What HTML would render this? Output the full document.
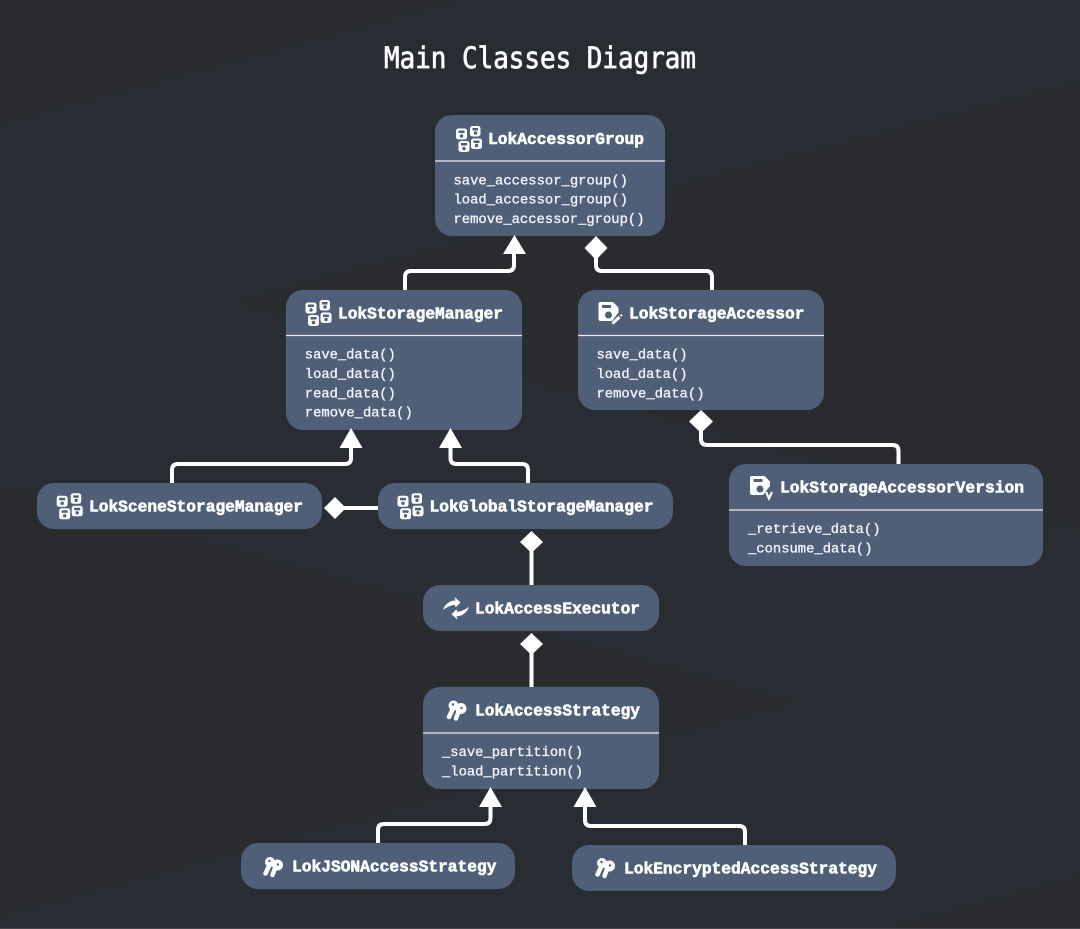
<!DOCTYPE html>
<html lang="en"><head><meta charset="utf-8"><title>Main Classes Diagram</title>
<style>
html,body{margin:0;padding:0;background:#292c33;}
svg{display:block;}
.t{font-family:"Liberation Mono",monospace;font-weight:700;font-size:16.3px;fill:#fff;stroke:#fff;stroke-width:.6px;}
.m{font-family:"Liberation Mono",monospace;font-weight:400;font-size:13.85px;fill:#f2f4f7;stroke:#f2f4f7;stroke-width:.35px;}
.n{fill:#505f78;}
.d{stroke:#e8eaee;stroke-width:1.3;}
.c{fill:none;stroke:#fff;stroke-width:4;stroke-linejoin:round;}
</style></head><body>
<svg xmlns="http://www.w3.org/2000/svg" width="1080" height="929" viewBox="0 0 1080 929">
<rect width="1080" height="929" fill="#292c33"/>
<g fill="#2a2b2e">
<polygon points="0,0 457,0 0,123"/>
<polygon points="1080,82 236,302 1080,530"/>
<polygon points="0,487 793,702 0,915"/>
<polygon points="1080,877 1080,929 887,929"/>
</g>
<rect y="928" width="1080" height="1" fill="#44464b"/>

<text x="384" y="68" font-family="'DejaVu Sans Mono',monospace" font-size="29" fill="#fff" stroke="#fff" stroke-width=".7" textLength="312" lengthAdjust="spacingAndGlyphs">Main Classes Diagram</text>

<!-- connectors -->
<path class="c" d="M405 291V277Q405 271 411 271H508Q514 271 514 265V250"/>
<path class="c" d="M596 255V265Q596 271 602 271H706Q712 271 712 277V291"/>
<path class="c" d="M701 428V439Q701 445 707 445H892.500Q898.500 445 898.500 451V465"/>
<path class="c" d="M172 484V470Q172 464 178 464H345Q351 464 351 458V444"/>
<path class="c" d="M528 484V470Q528 464 522 464H456.500Q450.500 464 450.500 458V444"/>
<path class="c" d="M340 508H379"/>
<path class="c" d="M531.500 548V586"/>
<path class="c" d="M531.500 650V688"/>
<path class="c" d="M378 844V830Q378 824 384 824H484.500Q490.500 824 490.500 818V803"/>
<path class="c" d="M745 846V832Q745 826 739 826H591Q585 826 585 820V803"/>
<!-- nodes -->
<rect class="n" x="435" y="115" width="230" height="121" rx="17"/>
<rect class="n" x="286" y="290" width="236" height="140" rx="17"/>
<rect class="n" x="578" y="290" width="246" height="120" rx="17"/>
<rect class="n" x="37" y="483" width="285" height="46" rx="17"/>
<rect class="n" x="378" y="483" width="295" height="46" rx="17"/>
<rect class="n" x="729" y="464" width="314" height="102" rx="17"/>
<rect class="n" x="423" y="585" width="236" height="46" rx="17"/>
<rect class="n" x="423" y="687" width="236" height="102" rx="17"/>
<rect class="n" x="241" y="843" width="274" height="46" rx="17"/>
<rect class="n" x="572" y="845" width="324" height="46" rx="17"/>
<!-- arrowheads / diamonds -->
<g fill="#fff">
<polygon points="514.500,235 526,254 503,254"/>
<polygon points="351,428 362.500,448 339.500,448"/>
<polygon points="450.500,428 462,448 439,448"/>
<polygon points="490.500,787 502,807 479,807"/>
<polygon points="585,787 596.500,807 573.500,807"/>
<polygon points="596,236 607.500,248 596,260 584.500,248"/>
<polygon points="701,410 713,421.500 701,433 689,421.500"/>
<polygon points="335,497 346,508 335,519 324,508"/>
<polygon points="531.500,531 543,542 531.500,553 520,542"/>
<polygon points="531.500,633 543,644 531.500,655 520,644"/>
</g>
<line class="d" x1="435" y1="161" x2="665" y2="161"/>
<line class="d" x1="286" y1="335.500" x2="522" y2="335.500"/>
<line class="d" x1="578" y1="335.500" x2="824" y2="335.500"/>
<line class="d" x1="729" y1="510" x2="1043" y2="510"/>
<line class="d" x1="423" y1="733" x2="659" y2="733"/>

<!-- lock icons -->
<g transform="translate(456,126)"><g fill="#fff"><rect y="2.500" width="11" height="11" rx="2.500"/><rect x="14" width="10.500" height="10.500" rx="2.500"/><rect x="2.500" y="15" width="11" height="11" rx="2.500"/><rect x="15" y="12.500" width="11" height="10.500" rx="2.500"/></g><g fill="#505f78"><rect x="2.500" y="4.500" width="6" height="2.500"/><rect x="16.500" y="2" width="5.500" height="2.500"/><rect x="5" y="17" width="6" height="2.500"/><rect x="17.500" y="14.500" width="6" height="2.500"/><circle cx="5.500" cy="10" r="1.700"/><circle cx="19.500" cy="7" r="1.700"/><circle cx="8" cy="22.500" r="1.700"/><circle cx="20.500" cy="19.500" r="1.700"/></g></g>
<g transform="translate(305.500,300)"><g fill="#fff"><rect y="2.500" width="11" height="11" rx="2.500"/><rect x="14" width="10.500" height="10.500" rx="2.500"/><rect x="2.500" y="15" width="11" height="11" rx="2.500"/><rect x="15" y="12.500" width="11" height="10.500" rx="2.500"/></g><g fill="#505f78"><rect x="2.500" y="4.500" width="6" height="2.500"/><rect x="16.500" y="2" width="5.500" height="2.500"/><rect x="5" y="17" width="6" height="2.500"/><rect x="17.500" y="14.500" width="6" height="2.500"/><circle cx="5.500" cy="10" r="1.700"/><circle cx="19.500" cy="7" r="1.700"/><circle cx="8" cy="22.500" r="1.700"/><circle cx="20.500" cy="19.500" r="1.700"/></g></g>
<g transform="translate(56.700,493.300)"><g fill="#fff"><rect y="2.500" width="11" height="11" rx="2.500"/><rect x="14" width="10.500" height="10.500" rx="2.500"/><rect x="2.500" y="15" width="11" height="11" rx="2.500"/><rect x="15" y="12.500" width="11" height="10.500" rx="2.500"/></g><g fill="#505f78"><rect x="2.500" y="4.500" width="6" height="2.500"/><rect x="16.500" y="2" width="5.500" height="2.500"/><rect x="5" y="17" width="6" height="2.500"/><rect x="17.500" y="14.500" width="6" height="2.500"/><circle cx="5.500" cy="10" r="1.700"/><circle cx="19.500" cy="7" r="1.700"/><circle cx="8" cy="22.500" r="1.700"/><circle cx="20.500" cy="19.500" r="1.700"/></g></g>
<g transform="translate(397.500,493.300)"><g fill="#fff"><rect y="2.500" width="11" height="11" rx="2.500"/><rect x="14" width="10.500" height="10.500" rx="2.500"/><rect x="2.500" y="15" width="11" height="11" rx="2.500"/><rect x="15" y="12.500" width="11" height="10.500" rx="2.500"/></g><g fill="#505f78"><rect x="2.500" y="4.500" width="6" height="2.500"/><rect x="16.500" y="2" width="5.500" height="2.500"/><rect x="5" y="17" width="6" height="2.500"/><rect x="17.500" y="14.500" width="6" height="2.500"/><circle cx="5.500" cy="10" r="1.700"/><circle cx="19.500" cy="7" r="1.700"/><circle cx="8" cy="22.500" r="1.700"/><circle cx="20.500" cy="19.500" r="1.700"/></g></g>

<!-- floppy icons -->
<g transform="translate(598.500,302)"><path fill="#fff" fill-rule="evenodd" d="M2 0H14.500L20 5.500V10.500L13.500 19H2A2 2 0 0 1 0 17V2A2 2 0 0 1 2 0ZM3.500 3V6H12.500V3ZM10 9.500A3.500 3.500 0 1 0 10 16.500A3.500 3.500 0 1 0 10 9.500Z"/><path d="M14 21.500L21 15" stroke="#fff" stroke-width="3" fill="none"/><path d="M22 14L23.500 12.800" stroke="#fff" stroke-width="2" fill="none"/></g>
<g transform="translate(750,476)"><path fill="#fff" fill-rule="evenodd" d="M2 0H14.500L20 5.500V10L13 19H2A2 2 0 0 1 0 17V2A2 2 0 0 1 2 0ZM3.500 3V6H12.500V3ZM10 9.500A3.500 3.500 0 1 0 10 16.500A3.500 3.500 0 1 0 10 9.500Z"/><path d="M16 16L19 22.500L22 16" stroke="#fff" stroke-width="2.200" fill="none"/></g>

<!-- sync icon -->
<g transform="translate(443,597)" fill="#fff"><path d="M0 13C2 7 7 3.500 12.500 3.500L11.500 0L17.500 5.500L12.500 10.500L12 8C8 8 4 10 0 13Z"/><path transform="translate(26,22.700) rotate(180)" d="M0 13C2 7 7 3.500 12.500 3.500L11.500 0L17.500 5.500L12.500 10.500L12 8C8 8 4 10 0 13Z"/></g>

<!-- key icons -->
<g transform="translate(263,857)"><path d="M6.500 8L2.500 16.500" stroke="#fff" stroke-width="4.500" stroke-linecap="round"/><circle cx="7" cy="5" r="5" fill="#fff"/><path d="M12.500 10L9.500 18" stroke="#fff" stroke-width="4.500" stroke-linecap="round"/><circle cx="14.500" cy="8" r="5.500" fill="#fff"/><circle cx="6.500" cy="4" r="1.200" fill="#505f78"/><circle cx="15" cy="7.500" r="1.200" fill="#505f78"/></g>
<g transform="translate(446.500,700.500)"><path d="M6.500 8L2.500 16.500" stroke="#fff" stroke-width="4.500" stroke-linecap="round"/><circle cx="7" cy="5" r="5" fill="#fff"/><path d="M12.500 10L9.500 18" stroke="#fff" stroke-width="4.500" stroke-linecap="round"/><circle cx="14.500" cy="8" r="5.500" fill="#fff"/><circle cx="6.500" cy="4" r="1.200" fill="#505f78"/><circle cx="15" cy="7.500" r="1.200" fill="#505f78"/></g>
<g transform="translate(595,858)"><path d="M6.500 8L2.500 16.500" stroke="#fff" stroke-width="4.500" stroke-linecap="round"/><circle cx="7" cy="5" r="5" fill="#fff"/><path d="M12.500 10L9.500 18" stroke="#fff" stroke-width="4.500" stroke-linecap="round"/><circle cx="14.500" cy="8" r="5.500" fill="#fff"/><circle cx="6.500" cy="4" r="1.200" fill="#505f78"/><circle cx="15" cy="7.500" r="1.200" fill="#505f78"/></g>

<!-- titles -->
<text class="t" x="488" y="144" textLength="156" lengthAdjust="spacingAndGlyphs">LokAccessorGroup</text>
<text class="t" x="338" y="318.500" textLength="165" lengthAdjust="spacingAndGlyphs">LokStorageManager</text>
<text class="t" x="629" y="318.500" textLength="175.500" lengthAdjust="spacingAndGlyphs">LokStorageAccessor</text>
<text class="t" x="89" y="511.500" textLength="214" lengthAdjust="spacingAndGlyphs">LokSceneStorageManager</text>
<text class="t" x="429.500" y="511.500" textLength="224" lengthAdjust="spacingAndGlyphs">LokGlobalStorageManager</text>
<text class="t" x="780" y="492.500" textLength="244" lengthAdjust="spacingAndGlyphs">LokStorageAccessorVersion</text>
<text class="t" x="475" y="613.500" textLength="165" lengthAdjust="spacingAndGlyphs">LokAccessExecutor</text>
<text class="t" x="475" y="715.500" textLength="165" lengthAdjust="spacingAndGlyphs">LokAccessStrategy</text>
<text class="t" x="292" y="871.500" textLength="204.500" lengthAdjust="spacingAndGlyphs">LokJSONAccessStrategy</text>
<text class="t" x="624" y="873.500" textLength="253" lengthAdjust="spacingAndGlyphs">LokEncryptedAccessStrategy</text>

<!-- methods -->
<text class="m" x="453.500" y="184.300" textLength="174.500" lengthAdjust="spacingAndGlyphs">save_accessor_group()</text>
<text class="m" x="453.500" y="203.500" textLength="174.500" lengthAdjust="spacingAndGlyphs">load_accessor_group()</text>
<text class="m" x="453.500" y="222.800" textLength="191" lengthAdjust="spacingAndGlyphs">remove_accessor_group()</text>
<text class="m" x="304.800" y="358.700" textLength="91" lengthAdjust="spacingAndGlyphs">save_data()</text>
<text class="m" x="304.800" y="378" textLength="91" lengthAdjust="spacingAndGlyphs">load_data()</text>
<text class="m" x="304.800" y="397.300" textLength="91" lengthAdjust="spacingAndGlyphs">read_data()</text>
<text class="m" x="304.800" y="416.600" textLength="108" lengthAdjust="spacingAndGlyphs">remove_data()</text>
<text class="m" x="596.500" y="358.700" textLength="91" lengthAdjust="spacingAndGlyphs">save_data()</text>
<text class="m" x="596.500" y="378" textLength="91" lengthAdjust="spacingAndGlyphs">load_data()</text>
<text class="m" x="596.500" y="397.300" textLength="108" lengthAdjust="spacingAndGlyphs">remove_data()</text>
<text class="m" x="748" y="533" textLength="132.500" lengthAdjust="spacingAndGlyphs">_retrieve_data()</text>
<text class="m" x="748" y="552.300" textLength="124.500" lengthAdjust="spacingAndGlyphs">_consume_data()</text>
<text class="m" x="442" y="756" textLength="141" lengthAdjust="spacingAndGlyphs">_save_partition()</text>
<text class="m" x="442" y="775.300" textLength="141" lengthAdjust="spacingAndGlyphs">_load_partition()</text>
</svg>
</body></html>
